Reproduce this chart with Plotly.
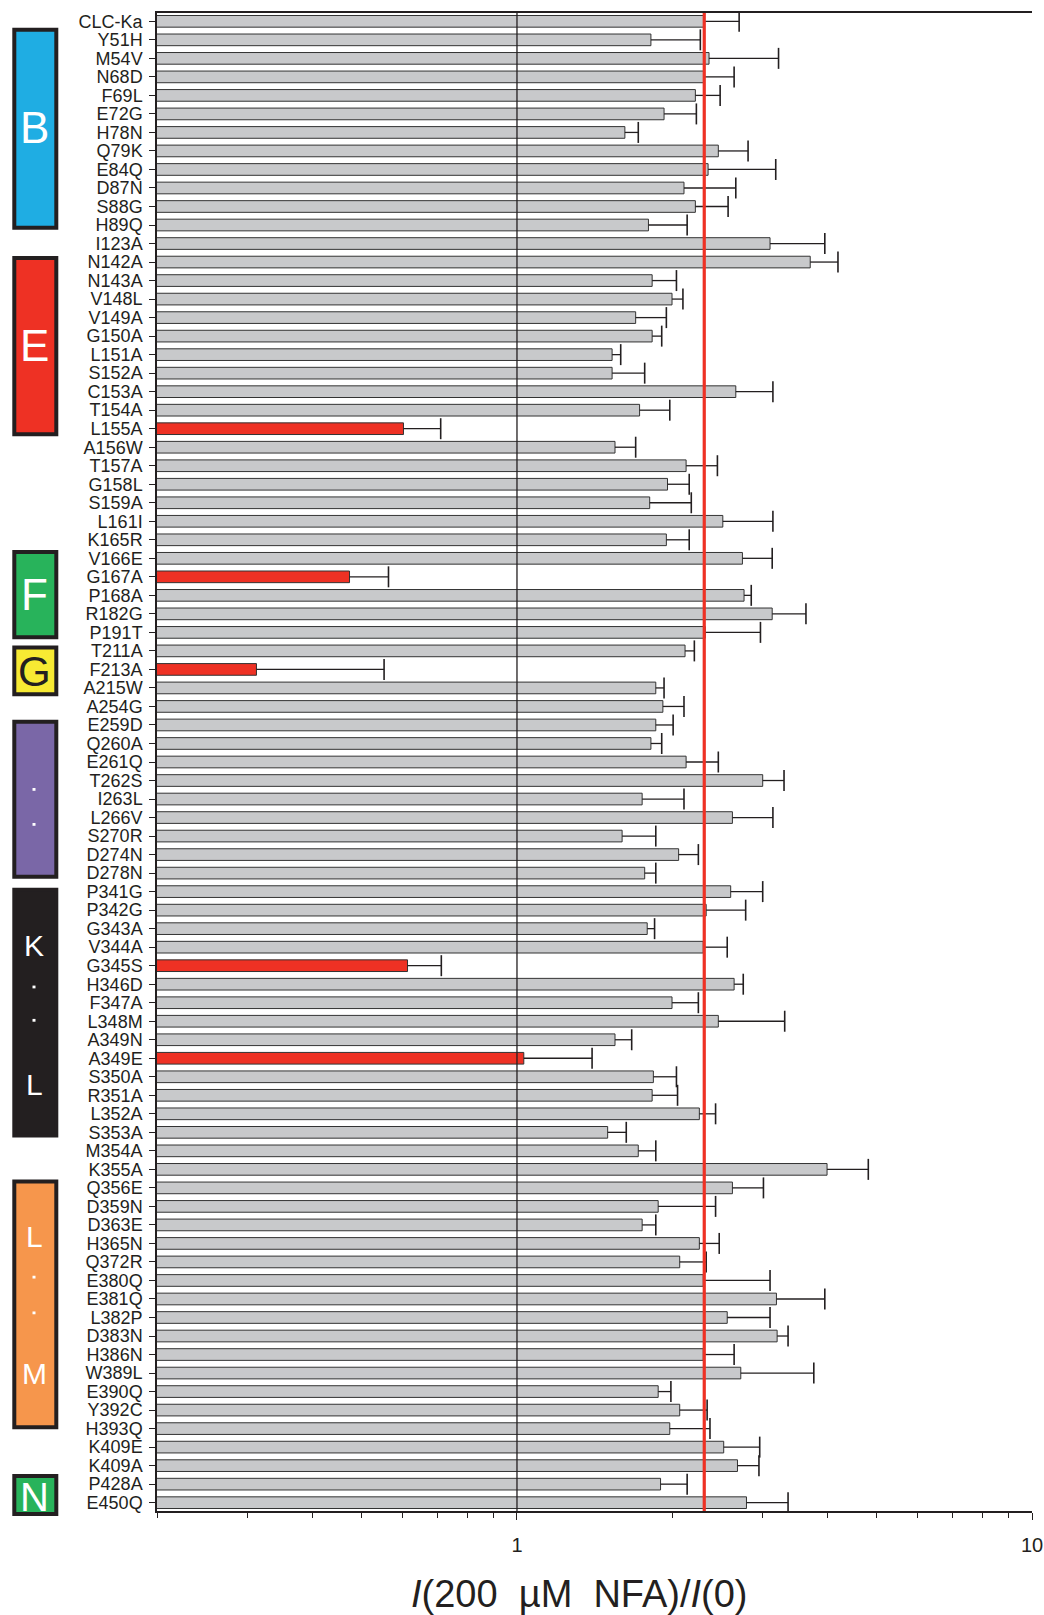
import math
import plotly.graph_objects as go

# Mutant names (top to bottom)
mutants = [
    "CLC-Ka", "Y51H", "M54V", "N68D", "F69L", "E72G", "H78N", "Q79K", "E84Q", "D87N",
    "S88G", "H89Q", "I123A", "N142A", "N143A", "V148L", "V149A", "G150A", "L151A", "S152A",
    "C153A", "T154A", "L155A", "A156W", "T157A", "G158L", "S159A", "L161I", "K165R", "V166E",
    "G167A", "P168A", "R182G", "P191T", "T211A", "F213A", "A215W", "A254G", "E259D", "Q260A",
    "E261Q", "T262S", "I263L", "L266V", "S270R", "D274N", "D278N", "P341G", "P342G", "G343A",
    "V344A", "G345S", "H346D", "F347A", "L348M", "A349N", "A349E", "S350A", "R351A", "L352A",
    "S353A", "M354A", "K355A", "Q356E", "D359N", "D363E", "H365N", "Q372R", "E380Q", "E381Q",
    "L382P", "D383N", "H386N", "W389L", "E390Q", "Y392C", "H393Q", "K409E", "K409A", "P428A",
    "E450Q",
]

# Mean I(200 uM NFA)/I(0)
ratio = [
    2.31, 1.82, 2.36, 2.31, 2.22, 1.93, 1.62, 2.46, 2.35, 2.11,
    2.22, 1.80, 3.10, 3.71, 1.83, 2.00, 1.70, 1.83, 1.53, 1.53,
    2.66, 1.73, 0.602, 1.55, 2.13, 1.96, 1.81, 2.51, 1.95, 2.74,
    0.473, 2.76, 3.13, 2.32, 2.12, 0.312, 1.86, 1.92, 1.86, 1.82,
    2.13, 3.00, 1.75, 2.62, 1.60, 2.06, 1.77, 2.60, 2.33, 1.79,
    2.30, 0.613, 2.64, 2.00, 2.46, 1.55, 1.031, 1.84, 1.83, 2.26,
    1.50, 1.72, 4.00, 2.62, 1.88, 1.75, 2.26, 2.07, 2.30, 3.19,
    2.56, 3.20, 2.30, 2.72, 1.88, 2.07, 1.98, 2.52, 2.68, 1.90,
    2.79,
]

# Upper end of the error bar (mean + SEM)
ratio_upper = [
    2.70, 2.27, 3.22, 2.64, 2.48, 2.23, 1.72, 2.81, 3.18, 2.66,
    2.57, 2.14, 3.96, 4.20, 2.04, 2.10, 1.95, 1.91, 1.59, 1.77,
    3.14, 1.98, 0.711, 1.70, 2.45, 2.16, 2.18, 3.14, 2.16, 3.13,
    0.563, 2.85, 3.64, 2.97, 2.21, 0.552, 1.93, 2.11, 2.01, 1.91,
    2.46, 3.30, 2.11, 3.14, 1.86, 2.25, 1.86, 3.00, 2.78, 1.85,
    2.56, 0.713, 2.75, 2.25, 3.31, 1.67, 1.399, 2.04, 2.05, 2.43,
    1.63, 1.86, 4.81, 3.01, 2.43, 1.86, 2.47, 2.33, 3.10, 3.96,
    3.10, 3.36, 2.64, 3.77, 1.99, 2.34, 2.37, 2.96, 2.95, 2.14,
    3.36,
]

# Mutants that strongly reduce NFA potentiation
strong_effect = ["L155A", "G167A", "F213A", "G345S", "A349E"]

x_ticks = [1, 10]
x_minor_ticks = [0.2, 0.3, 0.4, 0.5, 0.6, 0.7, 0.8, 0.9, 2, 3, 4, 5, 6, 7, 8, 9]

INK = "#231f20"
GREY = "#c8c9cb"
RED = "#ee3124"

bar_colors = [RED if m in strong_effect else GREY for m in mutants]
err_plus = [u - r for u, r in zip(ratio_upper, ratio)]
wt_value = ratio[mutants.index("CLC-Ka")]

fig = go.Figure()
fig.add_trace(go.Bar(
    x=ratio, y=mutants, orientation="h",
    width=0.63,
    marker=dict(color=bar_colors, line=dict(color="#333333", width=1)),
    error_x=dict(type="data", symmetric=False, array=err_plus,
                 arrayminus=[0] * len(ratio), width=0, thickness=1.3, color=INK),
    showlegend=False,
))
# error-bar caps
fig.add_trace(go.Scatter(
    x=ratio_upper, y=mutants, mode="markers",
    marker=dict(symbol="line-ns", size=15, line=dict(color=INK, width=1.6)),
    showlegend=False, hoverinfo="skip",
))

# reference line at the wild-type value and at ratio = 1
fig.add_shape(type="line", xref="x", yref="paper", x0=wt_value, x1=wt_value, y0=0, y1=1,
              line=dict(color=RED, width=3.2), layer="above")
fig.add_shape(type="line", xref="x", yref="paper", x0=1, x1=1, y0=0, y1=1,
              line=dict(color=INK, width=1.3), layer="above")

# helix markers on the left margin
L_MARGIN, PLOT_W = 157, 875
TOP, BOTTOM = 13, 104
PLOT_H = 1615 - TOP - BOTTOM
Y_LO, Y_HI = -0.45, 80.45
ROW_PX = PLOT_H / (Y_HI - Y_LO)


def px_to_paper(px):
    return (px - L_MARGIN) / PLOT_W


def row_to_paper(row):
    return 1 - (row - Y_LO) / (Y_HI - Y_LO)


helix_boxes = [
    # (row top, row bottom, fill, border)
    (0.345, 11.25, "#1fade3", INK),
    (12.67, 22.41, "#ee3124", INK),
    (28.55, 33.37, "#28b35b", INK),
    (33.71, 36.45, "#f7ea33", INK),
    (37.72, 46.30, "#7a67a7", INK),
    (46.79, 60.28, INK, INK),
    (62.55, 76.04, "#f6964c", INK),
    (78.45, 80.72, "#28b35b", INK),
]
half = 2.0 / ROW_PX
for top, bot, fill, border in helix_boxes:
    fig.add_shape(type="rect", xref="paper", yref="paper",
                  x0=px_to_paper(14.3), x1=px_to_paper(56.3),
                  y0=row_to_paper(top + half), y1=row_to_paper(bot - half),
                  fillcolor=fill, line=dict(color=border, width=4), layer="above")

helix_letters = [
    # (text, row position, size, colour)
    ("B", 5.74, 44, "white"),
    ("E", 17.52, 44, "white"),
    ("F", 30.96, 44, "white"),
    ("G", 35.10, 42, INK),
    ("K", 49.90, 30, "white"),
    ("L", 57.40, 30, "white"),
    ("L", 65.64, 30, "white"),
    ("M", 73.02, 30, "white"),
    ("N", 79.69, 40, "white"),
]
for txt, pos, size, col in helix_letters:
    fig.add_annotation(xref="paper", yref="paper", x=px_to_paper(34.5), y=row_to_paper(pos),
                       text=txt, showarrow=False, xanchor="center", yanchor="middle",
                       font=dict(family="Liberation Sans, Arial", size=size, color=col))

helix_dots = [41.48, 43.37, 52.15, 53.95, 67.82, 69.75]
dot_h = 1.4 / ROW_PX
for pos in helix_dots:
    fig.add_shape(type="rect", xref="paper", yref="paper",
                  x0=px_to_paper(32.5), x1=px_to_paper(35.5),
                  y0=row_to_paper(pos - dot_h), y1=row_to_paper(pos + dot_h),
                  fillcolor="white", line=dict(width=0), layer="above")

fig.add_annotation(
    xref="paper", yref="paper", x=px_to_paper(579), y=(PLOT_H + TOP - 1594) / PLOT_H,
    text="<i>I</i>(200\u00a0\u00a0µM\u00a0\u00a0NFA)/<i>I</i>(0)",
    showarrow=False, xanchor="center", yanchor="middle",
    font=dict(family="Liberation Sans, Arial", size=38, color=INK),
)

fig.update_xaxes(
    type="log", range=[math.log10(0.2), 1], automargin=False,
    tickmode="array", tickvals=x_ticks, ticktext=[str(v) for v in x_ticks],
    ticks="outside", ticklen=7, tickwidth=1.2, tickcolor=INK,
    ticklabelstandoff=8,
    minor=dict(tickmode="array", tickvals=x_minor_ticks, ticks="outside",
               ticklen=5, tickwidth=1.2, tickcolor=INK, showgrid=False),
    showline=True, linecolor=INK, linewidth=1.5, mirror=True,
    showgrid=False, zeroline=False,
    tickfont=dict(family="Liberation Sans, Arial", size=20, color=INK),
)
fig.update_yaxes(
    type="category", categoryorder="array", categoryarray=mutants,
    tickmode="array", tickvals=mutants, ticktext=mutants,
    range=[Y_HI, Y_LO], automargin=False,
    ticks="outside", ticklen=6, tickwidth=1.2, tickcolor=INK,
    ticklabelstandoff=3,
    showline=True, linecolor=INK, linewidth=1.5,
    showgrid=False, zeroline=False,
    tickfont=dict(family="Liberation Sans, Arial", size=18, color=INK),
)

fig.update_layout(
    width=1044, height=1615,
    margin=dict(l=L_MARGIN, r=1044 - L_MARGIN - PLOT_W, t=TOP, b=BOTTOM),
    plot_bgcolor="white", paper_bgcolor="white",
    bargap=0.37,
    showlegend=False,
)

fig.write_html("out.html")
